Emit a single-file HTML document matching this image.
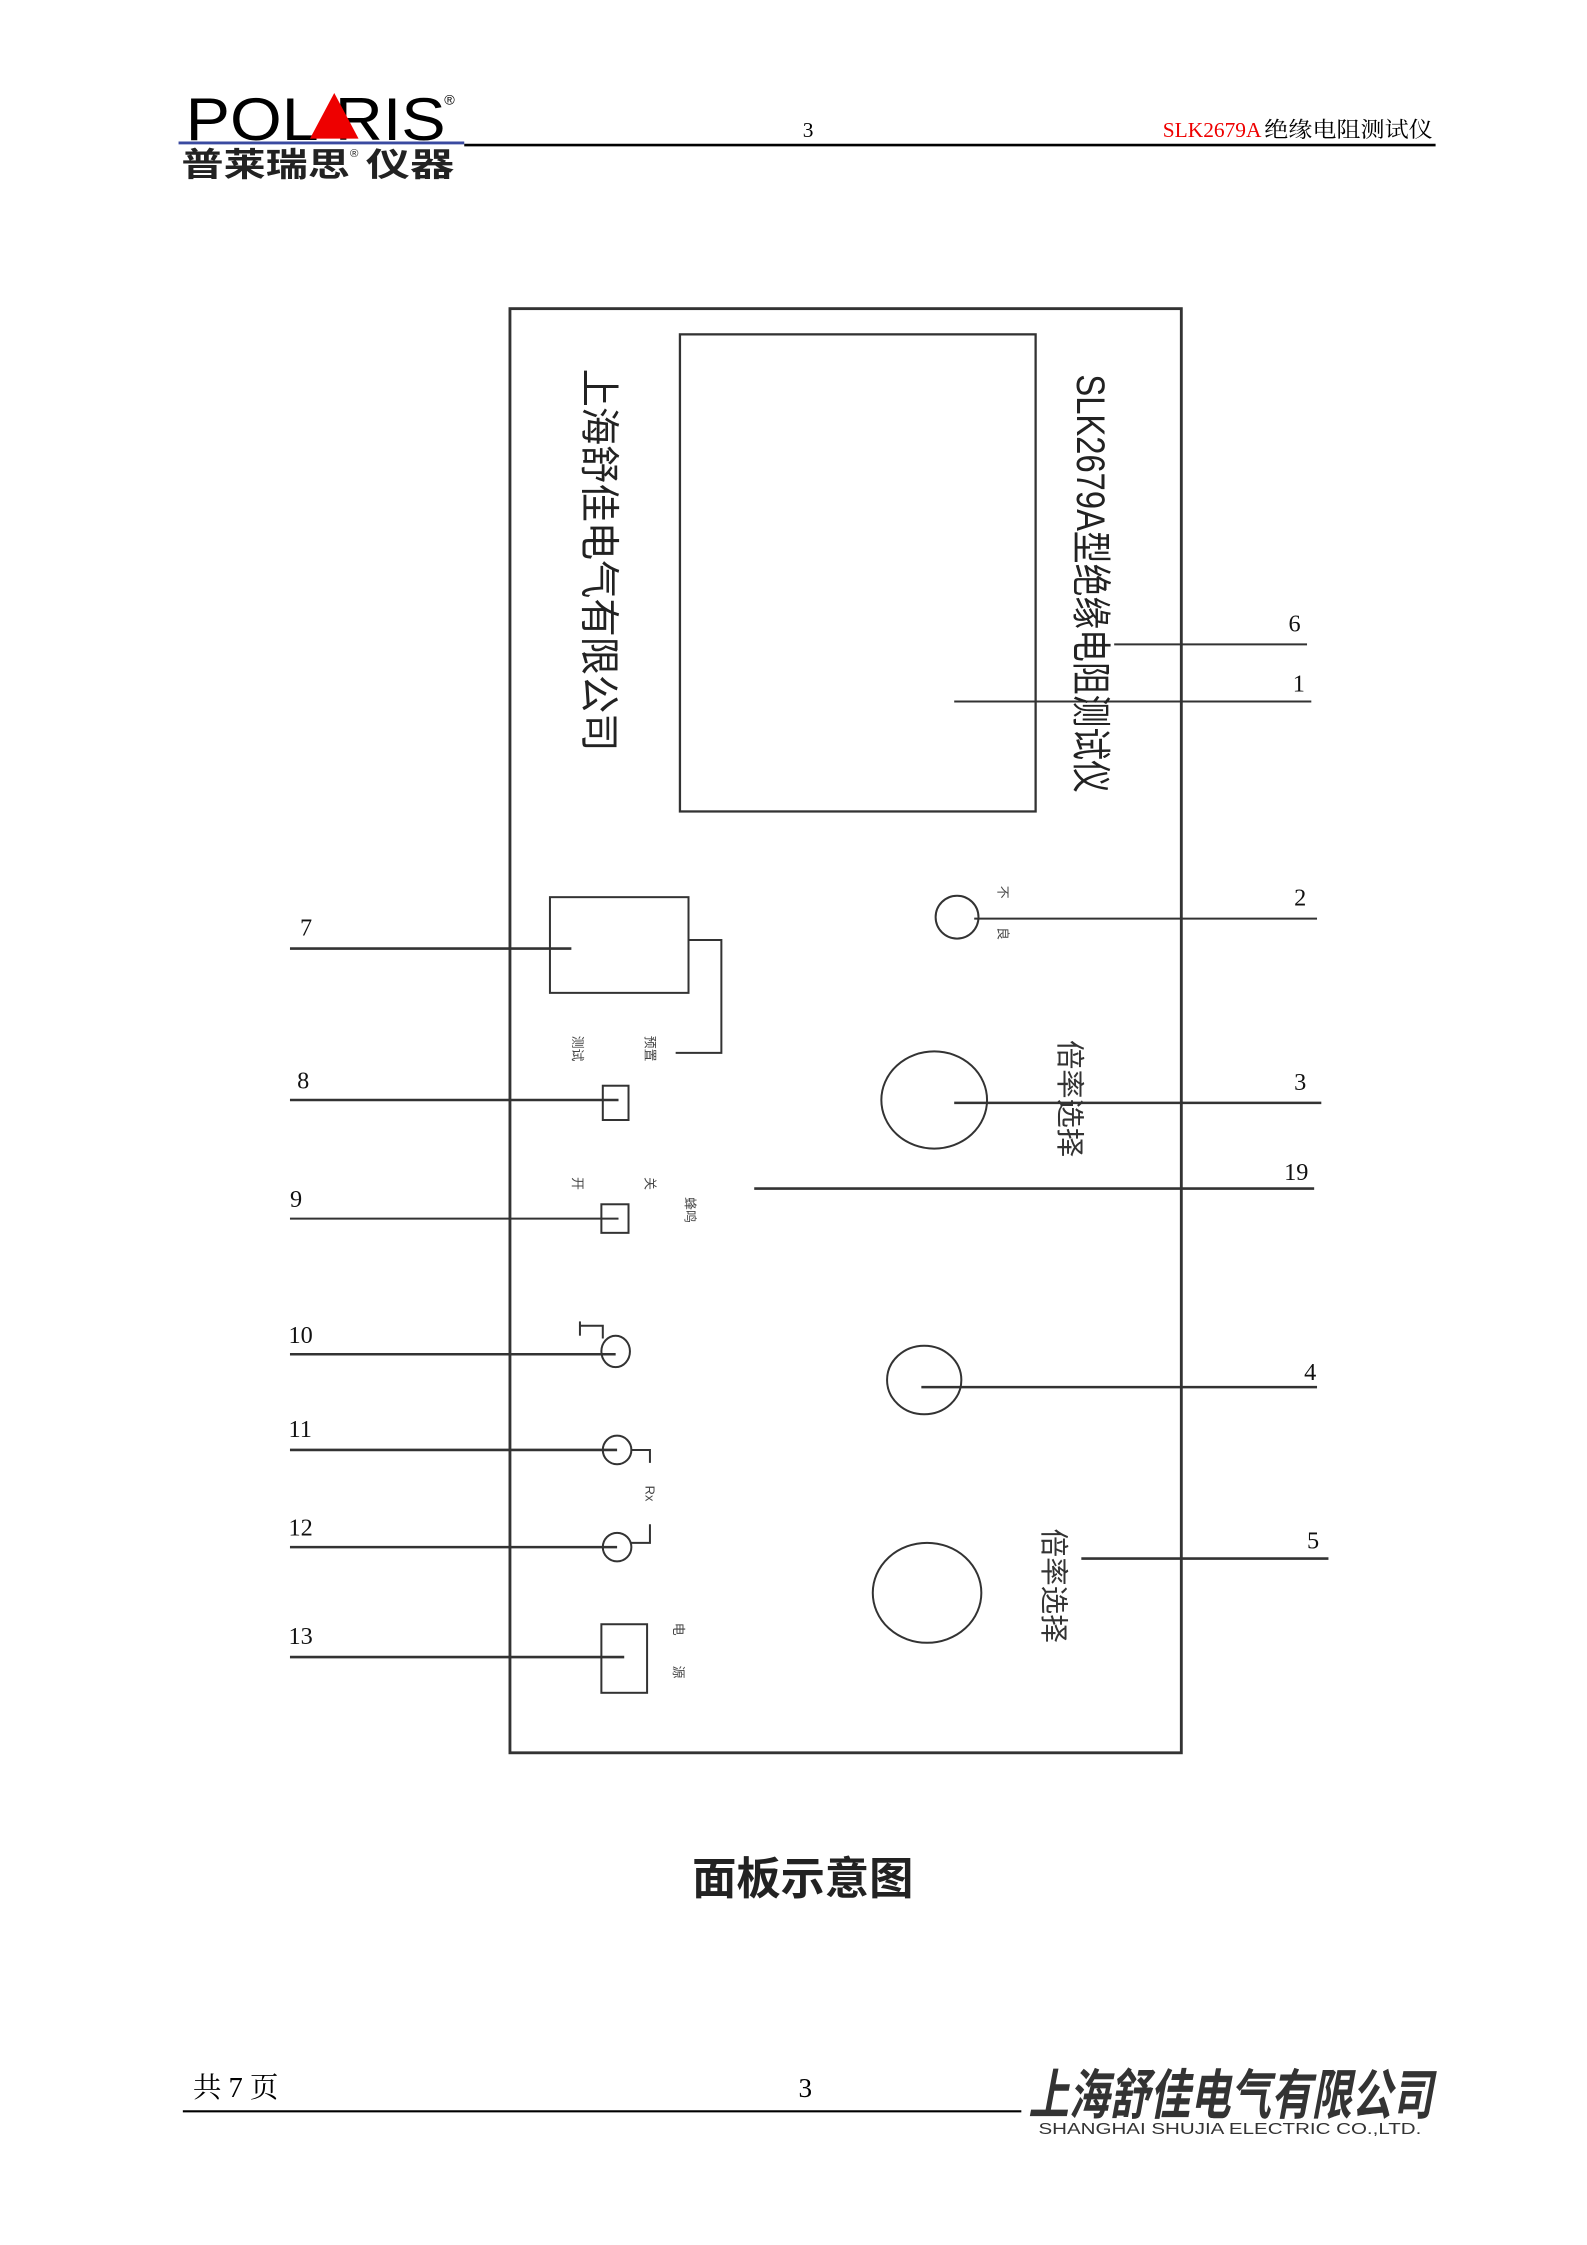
<!DOCTYPE html>
<html><head><meta charset="utf-8"><style>
html,body{margin:0;padding:0;background:#fff;}
svg{display:block;}
text{font-family:"Liberation Sans","Noto Sans CJK SC",sans-serif;}
.serif{font-family:"Liberation Serif","Noto Serif CJK SC",serif;}
</style></head><body>
<svg width="1587" height="2245" viewBox="0 0 1111 1571.5" xmlns="http://www.w3.org/2000/svg">
<g fill="none" stroke="#333" stroke-width="1.4">
<line x1="125" y1="100" x2="325" y2="100" stroke="#3a4aa0" stroke-width="2"/>
<line x1="325" y1="101.5" x2="1005" y2="101.5" stroke="#000" stroke-width="1.8"/>
<rect x="357" y="216" width="470" height="1011" stroke-width="2"/>
<rect x="476" y="234" width="249" height="334" stroke-width="1.6"/>
<line x1="780" y1="451" x2="915" y2="451"/>
<line x1="668" y1="491" x2="918" y2="491"/>
<ellipse cx="670" cy="642" rx="15" ry="15"/>
<line x1="682" y1="643" x2="922" y2="643"/>
<rect x="385" y="628" width="97" height="67"/>
<line x1="203" y1="664" x2="400" y2="664" stroke-width="1.8"/>
<polyline points="482,658 505,658 505,737 473,737"/>
<rect x="422" y="760" width="18" height="24"/>
<line x1="203" y1="770" x2="433" y2="770" stroke-width="1.8"/>
<ellipse cx="654" cy="770" rx="37" ry="34"/>
<line x1="668" y1="772" x2="925" y2="772" stroke-width="1.8"/>
<line x1="528" y1="832" x2="920" y2="832" stroke-width="1.8"/>
<rect x="421" y="843" width="19" height="20"/>
<line x1="203" y1="853" x2="433" y2="853"/>
<ellipse cx="431" cy="946" rx="10" ry="11"/>
<polyline points="406,925 406,935"/>
<polyline points="406,928 422,928 422,937"/>
<line x1="203" y1="948" x2="431" y2="948" stroke-width="1.8"/>
<ellipse cx="647" cy="966" rx="26" ry="24"/>
<line x1="645" y1="971" x2="922" y2="971" stroke-width="1.8"/>
<ellipse cx="432" cy="1015" rx="10" ry="10"/>
<line x1="203" y1="1015" x2="432" y2="1015" stroke-width="1.8"/>
<polyline points="442,1015 455,1015 455,1024"/>
<ellipse cx="432" cy="1083" rx="10" ry="10"/>
<line x1="203" y1="1083" x2="432" y2="1083" stroke-width="1.8"/>
<polyline points="442,1080 455,1080 455,1067"/>
<ellipse cx="649" cy="1115" rx="38" ry="35"/>
<line x1="757" y1="1091" x2="930" y2="1091" stroke-width="1.8"/>
<rect x="421" y="1137" width="32" height="48"/>
<line x1="203" y1="1160" x2="437" y2="1160" stroke-width="1.8"/>
<line x1="128" y1="1478" x2="715" y2="1478" stroke="#000" stroke-width="1.5"/>
</g>

<text x="130" y="98" font-size="42" fill="#000" textLength="182" lengthAdjust="spacingAndGlyphs">POL  RIS</text>
<polygon points="217,97 234,65 251,97" fill="#e00"/>
<text x="311" y="73" font-size="10">®</text>
<text x="127" y="123" font-size="23" font-weight="bold" fill="#222" textLength="118" lengthAdjust="spacingAndGlyphs">普莱瑞思</text>
<text x="245" y="110" font-size="8" fill="#222">®</text>
<text x="256" y="123" font-size="23" font-weight="bold" fill="#222" textLength="62" lengthAdjust="spacingAndGlyphs">仪器</text>
<text class="serif" x="562" y="96" font-size="15">3</text>
<text class="serif" x="814" y="96" font-size="15" fill="#e00">SLK2679A</text>
<text class="serif" x="885" y="96" font-size="15" textLength="118" lengthAdjust="spacingAndGlyphs">绝缘电阻测试仪</text>

<text transform="translate(410,258) rotate(90)" font-size="28" fill="#222" textLength="268" lengthAdjust="spacingAndGlyphs">上海舒佳电气有限公司</text>
<text transform="translate(754,262) rotate(90)" font-size="28" fill="#222" textLength="293" lengthAdjust="spacingAndGlyphs">SLK2679A型绝缘电阻测试仪</text>
<text transform="translate(742,728) rotate(90)" font-size="20" fill="#333" textLength="82" lengthAdjust="spacingAndGlyphs">倍率选择</text>
<text transform="translate(731,1070) rotate(90)" font-size="20" fill="#333" textLength="80" lengthAdjust="spacingAndGlyphs">倍率选择</text>
<g font-size="9" fill="#444">
<text transform="translate(699,620) rotate(90)">不</text>
<text transform="translate(699,649) rotate(90)">良</text>
<text transform="translate(401,725) rotate(90)">测试</text>
<text transform="translate(452,725) rotate(90)">预置</text>
<text transform="translate(401,824) rotate(90)">开</text>
<text transform="translate(452,824) rotate(90)">关</text>
<text transform="translate(480,838) rotate(90)">蜂鸣</text>
<text transform="translate(452,1040) rotate(90)">Rx</text>
<text transform="translate(472,1136) rotate(90)">电</text>
<text transform="translate(472,1166) rotate(90)">源</text>
</g>

<g font-size="17" fill="#111">
<text class="serif" x="902" y="442">6</text>
<text class="serif" x="905" y="484">1</text>
<text class="serif" x="906" y="634">2</text>
<text class="serif" x="906" y="763">3</text>
<text class="serif" x="899" y="826">19</text>
<text class="serif" x="913" y="966">4</text>
<text class="serif" x="915" y="1084">5</text>
<text class="serif" x="210" y="655">7</text>
<text class="serif" x="208" y="762">8</text>
<text class="serif" x="203" y="845">9</text>
<text class="serif" x="202" y="940">10</text>
<text class="serif" x="202" y="1006">11</text>
<text class="serif" x="202" y="1075">12</text>
<text class="serif" x="202" y="1151">13</text>
</g>

<text x="562" y="1326" font-size="31" font-weight="bold" text-anchor="middle" fill="#222">面板示意图</text>

<text class="serif" x="135" y="1468" font-size="20">共 7 页</text>
<text class="serif" x="559" y="1468" font-size="19">3</text>
<text x="720" y="1480" font-size="38" font-weight="bold" font-style="italic" fill="#333" textLength="283" lengthAdjust="spacingAndGlyphs">上海舒佳电气有限公司</text>
<text x="727" y="1494" font-size="11" fill="#333" textLength="268" lengthAdjust="spacingAndGlyphs">SHANGHAI SHUJIA ELECTRIC CO.,LTD.</text>
</svg>
</body></html>
